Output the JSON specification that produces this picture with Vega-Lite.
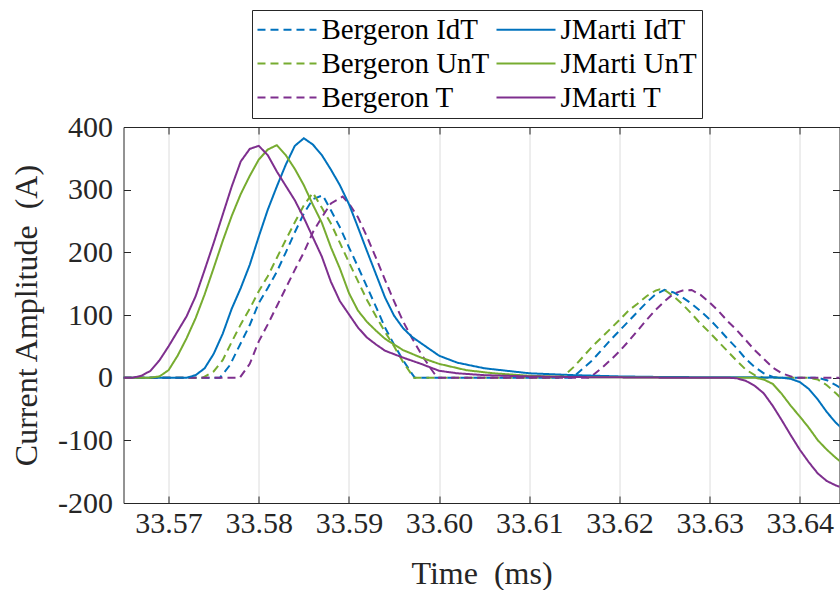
{
"$schema": "https://vega.github.io/schema/vega-lite/v6.json",
"width": 716, "height": 376,
"autosize": {"type": "none"},
"padding": {"left": 123.5, "top": 127, "right": 0.5, "bottom": 87},
"background": "white",
"config": {"view": {"stroke": null}, "font": "Liberation Serif"},
"datasets": {
"curves": [
{"s":"Bergeron IdT","t":33.565,"y":0},{"s":"Bergeron IdT","t":33.5757,"y":0},{"s":"Bergeron IdT","t":33.5768,"y":20},{"s":"Bergeron IdT","t":33.578,"y":55},{"s":"Bergeron IdT","t":33.579,"y":84},{"s":"Bergeron IdT","t":33.58,"y":119},{"s":"Bergeron IdT","t":33.581,"y":143},{"s":"Bergeron IdT","t":33.582,"y":169},{"s":"Bergeron IdT","t":33.583,"y":200},{"s":"Bergeron IdT","t":33.584,"y":232},{"s":"Bergeron IdT","t":33.585,"y":262},{"s":"Bergeron IdT","t":33.586,"y":285},{"s":"Bergeron IdT","t":33.5871,"y":291},{"s":"Bergeron IdT","t":33.588,"y":267},{"s":"Bergeron IdT","t":33.589,"y":240},{"s":"Bergeron IdT","t":33.59,"y":208},{"s":"Bergeron IdT","t":33.591,"y":177},{"s":"Bergeron IdT","t":33.592,"y":145},{"s":"Bergeron IdT","t":33.593,"y":113},{"s":"Bergeron IdT","t":33.594,"y":80},{"s":"Bergeron IdT","t":33.595,"y":53},{"s":"Bergeron IdT","t":33.596,"y":28},{"s":"Bergeron IdT","t":33.597,"y":6},{"s":"Bergeron IdT","t":33.5973,"y":0},{"s":"Bergeron IdT","t":33.6148,"y":0},{"s":"Bergeron IdT","t":33.616,"y":15},{"s":"Bergeron IdT","t":33.617,"y":28},{"s":"Bergeron IdT","t":33.618,"y":44},{"s":"Bergeron IdT","t":33.619,"y":60},{"s":"Bergeron IdT","t":33.62,"y":75},{"s":"Bergeron IdT","t":33.621,"y":90},{"s":"Bergeron IdT","t":33.622,"y":105},{"s":"Bergeron IdT","t":33.623,"y":120},{"s":"Bergeron IdT","t":33.624,"y":133},{"s":"Bergeron IdT","t":33.625,"y":140},{"s":"Bergeron IdT","t":33.626,"y":136},{"s":"Bergeron IdT","t":33.627,"y":128},{"s":"Bergeron IdT","t":33.628,"y":118},{"s":"Bergeron IdT","t":33.629,"y":106},{"s":"Bergeron IdT","t":33.63,"y":93},{"s":"Bergeron IdT","t":33.631,"y":78},{"s":"Bergeron IdT","t":33.632,"y":62},{"s":"Bergeron IdT","t":33.633,"y":47},{"s":"Bergeron IdT","t":33.634,"y":30},{"s":"Bergeron IdT","t":33.635,"y":17},{"s":"Bergeron IdT","t":33.636,"y":7},{"s":"Bergeron IdT","t":33.637,"y":1},{"s":"Bergeron IdT","t":33.6375,"y":0},{"s":"Bergeron IdT","t":33.642,"y":0},{"s":"Bergeron IdT","t":33.643,"y":-4},{"s":"Bergeron IdT","t":33.644,"y":-12},{"s":"Bergeron IdT","t":33.6446,"y":-17},
{"s":"Bergeron UnT","t":33.565,"y":0},{"s":"Bergeron UnT","t":33.5738,"y":0},{"s":"Bergeron UnT","t":33.575,"y":10},{"s":"Bergeron UnT","t":33.576,"y":28},{"s":"Bergeron UnT","t":33.577,"y":57},{"s":"Bergeron UnT","t":33.578,"y":85},{"s":"Bergeron UnT","t":33.579,"y":110},{"s":"Bergeron UnT","t":33.58,"y":138},{"s":"Bergeron UnT","t":33.581,"y":162},{"s":"Bergeron UnT","t":33.582,"y":191},{"s":"Bergeron UnT","t":33.583,"y":220},{"s":"Bergeron UnT","t":33.584,"y":248},{"s":"Bergeron UnT","t":33.585,"y":275},{"s":"Bergeron UnT","t":33.586,"y":295},{"s":"Bergeron UnT","t":33.587,"y":271},{"s":"Bergeron UnT","t":33.588,"y":246},{"s":"Bergeron UnT","t":33.589,"y":215},{"s":"Bergeron UnT","t":33.59,"y":184},{"s":"Bergeron UnT","t":33.591,"y":154},{"s":"Bergeron UnT","t":33.592,"y":124},{"s":"Bergeron UnT","t":33.593,"y":98},{"s":"Bergeron UnT","t":33.594,"y":73},{"s":"Bergeron UnT","t":33.595,"y":50},{"s":"Bergeron UnT","t":33.596,"y":25},{"s":"Bergeron UnT","t":33.597,"y":4},{"s":"Bergeron UnT","t":33.5972,"y":0},{"s":"Bergeron UnT","t":33.613,"y":0},{"s":"Bergeron UnT","t":33.614,"y":5},{"s":"Bergeron UnT","t":33.615,"y":18},{"s":"Bergeron UnT","t":33.616,"y":34},{"s":"Bergeron UnT","t":33.617,"y":50},{"s":"Bergeron UnT","t":33.618,"y":64},{"s":"Bergeron UnT","t":33.619,"y":78},{"s":"Bergeron UnT","t":33.62,"y":92},{"s":"Bergeron UnT","t":33.621,"y":107},{"s":"Bergeron UnT","t":33.622,"y":118},{"s":"Bergeron UnT","t":33.623,"y":130},{"s":"Bergeron UnT","t":33.624,"y":139},{"s":"Bergeron UnT","t":33.6245,"y":141},{"s":"Bergeron UnT","t":33.625,"y":140},{"s":"Bergeron UnT","t":33.626,"y":130},{"s":"Bergeron UnT","t":33.627,"y":117},{"s":"Bergeron UnT","t":33.628,"y":102},{"s":"Bergeron UnT","t":33.629,"y":86},{"s":"Bergeron UnT","t":33.63,"y":72},{"s":"Bergeron UnT","t":33.631,"y":57},{"s":"Bergeron UnT","t":33.632,"y":42},{"s":"Bergeron UnT","t":33.633,"y":27},{"s":"Bergeron UnT","t":33.634,"y":13},{"s":"Bergeron UnT","t":33.635,"y":4},{"s":"Bergeron UnT","t":33.636,"y":0},{"s":"Bergeron UnT","t":33.641,"y":0},{"s":"Bergeron UnT","t":33.642,"y":-3},{"s":"Bergeron UnT","t":33.643,"y":-12},{"s":"Bergeron UnT","t":33.644,"y":-25},{"s":"Bergeron UnT","t":33.6446,"y":-33},
{"s":"Bergeron T","t":33.565,"y":0},{"s":"Bergeron T","t":33.5779,"y":0},{"s":"Bergeron T","t":33.579,"y":22},{"s":"Bergeron T","t":33.58,"y":58},{"s":"Bergeron T","t":33.581,"y":85},{"s":"Bergeron T","t":33.582,"y":114},{"s":"Bergeron T","t":33.583,"y":143},{"s":"Bergeron T","t":33.584,"y":172},{"s":"Bergeron T","t":33.585,"y":200},{"s":"Bergeron T","t":33.586,"y":232},{"s":"Bergeron T","t":33.587,"y":256},{"s":"Bergeron T","t":33.588,"y":278},{"s":"Bergeron T","t":33.5893,"y":289},{"s":"Bergeron T","t":33.59,"y":278},{"s":"Bergeron T","t":33.591,"y":256},{"s":"Bergeron T","t":33.592,"y":225},{"s":"Bergeron T","t":33.593,"y":191},{"s":"Bergeron T","t":33.594,"y":156},{"s":"Bergeron T","t":33.595,"y":122},{"s":"Bergeron T","t":33.596,"y":90},{"s":"Bergeron T","t":33.597,"y":63},{"s":"Bergeron T","t":33.598,"y":38},{"s":"Bergeron T","t":33.599,"y":16},{"s":"Bergeron T","t":33.5998,"y":0},{"s":"Bergeron T","t":33.6167,"y":0},{"s":"Bergeron T","t":33.618,"y":15},{"s":"Bergeron T","t":33.619,"y":28},{"s":"Bergeron T","t":33.62,"y":42},{"s":"Bergeron T","t":33.621,"y":58},{"s":"Bergeron T","t":33.622,"y":75},{"s":"Bergeron T","t":33.623,"y":92},{"s":"Bergeron T","t":33.624,"y":108},{"s":"Bergeron T","t":33.625,"y":122},{"s":"Bergeron T","t":33.626,"y":134},{"s":"Bergeron T","t":33.627,"y":139},{"s":"Bergeron T","t":33.628,"y":140},{"s":"Bergeron T","t":33.629,"y":132},{"s":"Bergeron T","t":33.63,"y":120},{"s":"Bergeron T","t":33.631,"y":106},{"s":"Bergeron T","t":33.632,"y":90},{"s":"Bergeron T","t":33.633,"y":76},{"s":"Bergeron T","t":33.634,"y":60},{"s":"Bergeron T","t":33.635,"y":44},{"s":"Bergeron T","t":33.636,"y":30},{"s":"Bergeron T","t":33.637,"y":16},{"s":"Bergeron T","t":33.638,"y":7},{"s":"Bergeron T","t":33.639,"y":2},{"s":"Bergeron T","t":33.6394,"y":0},{"s":"Bergeron T","t":33.6446,"y":0},
{"s":"JMarti IdT","t":33.565,"y":0},{"s":"JMarti IdT","t":33.572,"y":0},{"s":"JMarti IdT","t":33.573,"y":4},{"s":"JMarti IdT","t":33.574,"y":15},{"s":"JMarti IdT","t":33.575,"y":38},{"s":"JMarti IdT","t":33.576,"y":70},{"s":"JMarti IdT","t":33.577,"y":110},{"s":"JMarti IdT","t":33.578,"y":143},{"s":"JMarti IdT","t":33.579,"y":180},{"s":"JMarti IdT","t":33.58,"y":225},{"s":"JMarti IdT","t":33.581,"y":268},{"s":"JMarti IdT","t":33.582,"y":305},{"s":"JMarti IdT","t":33.583,"y":340},{"s":"JMarti IdT","t":33.584,"y":370},{"s":"JMarti IdT","t":33.585,"y":382},{"s":"JMarti IdT","t":33.586,"y":372},{"s":"JMarti IdT","t":33.587,"y":355},{"s":"JMarti IdT","t":33.588,"y":332},{"s":"JMarti IdT","t":33.589,"y":307},{"s":"JMarti IdT","t":33.59,"y":277},{"s":"JMarti IdT","t":33.591,"y":240},{"s":"JMarti IdT","t":33.592,"y":202},{"s":"JMarti IdT","t":33.593,"y":165},{"s":"JMarti IdT","t":33.594,"y":128},{"s":"JMarti IdT","t":33.595,"y":99},{"s":"JMarti IdT","t":33.596,"y":79},{"s":"JMarti IdT","t":33.597,"y":65},{"s":"JMarti IdT","t":33.598,"y":55},{"s":"JMarti IdT","t":33.599,"y":45},{"s":"JMarti IdT","t":33.6,"y":35},{"s":"JMarti IdT","t":33.602,"y":24},{"s":"JMarti IdT","t":33.605,"y":15},{"s":"JMarti IdT","t":33.61,"y":7},{"s":"JMarti IdT","t":33.615,"y":4},{"s":"JMarti IdT","t":33.62,"y":2},{"s":"JMarti IdT","t":33.625,"y":1},{"s":"JMarti IdT","t":33.635,"y":0.5},{"s":"JMarti IdT","t":33.638,"y":0},{"s":"JMarti IdT","t":33.639,"y":-2},{"s":"JMarti IdT","t":33.64,"y":-7},{"s":"JMarti IdT","t":33.641,"y":-18},{"s":"JMarti IdT","t":33.642,"y":-35},{"s":"JMarti IdT","t":33.643,"y":-55},{"s":"JMarti IdT","t":33.644,"y":-72},{"s":"JMarti IdT","t":33.6446,"y":-80},
{"s":"JMarti UnT","t":33.565,"y":0},{"s":"JMarti UnT","t":33.568,"y":0},{"s":"JMarti UnT","t":33.569,"y":2},{"s":"JMarti UnT","t":33.57,"y":12},{"s":"JMarti UnT","t":33.571,"y":35},{"s":"JMarti UnT","t":33.572,"y":63},{"s":"JMarti UnT","t":33.573,"y":95},{"s":"JMarti UnT","t":33.574,"y":133},{"s":"JMarti UnT","t":33.575,"y":175},{"s":"JMarti UnT","t":33.576,"y":218},{"s":"JMarti UnT","t":33.577,"y":258},{"s":"JMarti UnT","t":33.578,"y":293},{"s":"JMarti UnT","t":33.579,"y":322},{"s":"JMarti UnT","t":33.58,"y":348},{"s":"JMarti UnT","t":33.581,"y":364},{"s":"JMarti UnT","t":33.582,"y":371},{"s":"JMarti UnT","t":33.583,"y":355},{"s":"JMarti UnT","t":33.584,"y":333},{"s":"JMarti UnT","t":33.585,"y":307},{"s":"JMarti UnT","t":33.586,"y":276},{"s":"JMarti UnT","t":33.587,"y":247},{"s":"JMarti UnT","t":33.588,"y":208},{"s":"JMarti UnT","t":33.589,"y":174},{"s":"JMarti UnT","t":33.59,"y":135},{"s":"JMarti UnT","t":33.591,"y":107},{"s":"JMarti UnT","t":33.592,"y":89},{"s":"JMarti UnT","t":33.593,"y":75},{"s":"JMarti UnT","t":33.594,"y":62},{"s":"JMarti UnT","t":33.596,"y":44},{"s":"JMarti UnT","t":33.598,"y":32},{"s":"JMarti UnT","t":33.6,"y":22},{"s":"JMarti UnT","t":33.603,"y":12},{"s":"JMarti UnT","t":33.606,"y":7},{"s":"JMarti UnT","t":33.61,"y":3},{"s":"JMarti UnT","t":33.615,"y":1},{"s":"JMarti UnT","t":33.62,"y":0.5},{"s":"JMarti UnT","t":33.625,"y":0},{"s":"JMarti UnT","t":33.635,"y":0},{"s":"JMarti UnT","t":33.636,"y":-3},{"s":"JMarti UnT","t":33.637,"y":-10},{"s":"JMarti UnT","t":33.638,"y":-26},{"s":"JMarti UnT","t":33.639,"y":-45},{"s":"JMarti UnT","t":33.64,"y":-62},{"s":"JMarti UnT","t":33.641,"y":-80},{"s":"JMarti UnT","t":33.642,"y":-100},{"s":"JMarti UnT","t":33.643,"y":-115},{"s":"JMarti UnT","t":33.644,"y":-128},{"s":"JMarti UnT","t":33.6446,"y":-135},
{"s":"JMarti T","t":33.565,"y":0},{"s":"JMarti T","t":33.566,"y":0},{"s":"JMarti T","t":33.567,"y":3},{"s":"JMarti T","t":33.568,"y":11},{"s":"JMarti T","t":33.569,"y":28},{"s":"JMarti T","t":33.57,"y":50},{"s":"JMarti T","t":33.571,"y":74},{"s":"JMarti T","t":33.572,"y":98},{"s":"JMarti T","t":33.573,"y":130},{"s":"JMarti T","t":33.574,"y":172},{"s":"JMarti T","t":33.575,"y":215},{"s":"JMarti T","t":33.576,"y":260},{"s":"JMarti T","t":33.577,"y":305},{"s":"JMarti T","t":33.578,"y":345},{"s":"JMarti T","t":33.579,"y":365},{"s":"JMarti T","t":33.58,"y":370},{"s":"JMarti T","t":33.581,"y":355},{"s":"JMarti T","t":33.582,"y":329},{"s":"JMarti T","t":33.583,"y":306},{"s":"JMarti T","t":33.584,"y":283},{"s":"JMarti T","t":33.585,"y":255},{"s":"JMarti T","t":33.586,"y":224},{"s":"JMarti T","t":33.587,"y":193},{"s":"JMarti T","t":33.588,"y":153},{"s":"JMarti T","t":33.589,"y":122},{"s":"JMarti T","t":33.59,"y":101},{"s":"JMarti T","t":33.591,"y":80},{"s":"JMarti T","t":33.592,"y":64},{"s":"JMarti T","t":33.593,"y":53},{"s":"JMarti T","t":33.594,"y":43},{"s":"JMarti T","t":33.596,"y":32},{"s":"JMarti T","t":33.598,"y":22},{"s":"JMarti T","t":33.6,"y":11},{"s":"JMarti T","t":33.602,"y":7},{"s":"JMarti T","t":33.605,"y":4},{"s":"JMarti T","t":33.61,"y":2},{"s":"JMarti T","t":33.615,"y":1},{"s":"JMarti T","t":33.62,"y":0.5},{"s":"JMarti T","t":33.625,"y":0},{"s":"JMarti T","t":33.632,"y":0},{"s":"JMarti T","t":33.633,"y":-1},{"s":"JMarti T","t":33.634,"y":-5},{"s":"JMarti T","t":33.635,"y":-13},{"s":"JMarti T","t":33.636,"y":-25},{"s":"JMarti T","t":33.637,"y":-45},{"s":"JMarti T","t":33.638,"y":-68},{"s":"JMarti T","t":33.639,"y":-92},{"s":"JMarti T","t":33.64,"y":-115},{"s":"JMarti T","t":33.641,"y":-135},{"s":"JMarti T","t":33.642,"y":-153},{"s":"JMarti T","t":33.643,"y":-165},{"s":"JMarti T","t":33.644,"y":-172},{"s":"JMarti T","t":33.6446,"y":-175}
]},
"data": {"name": "curves"},
"layer": [
{
"mark": {"type": "line", "strokeWidth": 2, "clip": true},
"encoding": {
"x": {"field": "t", "type": "quantitative",
 "scale": {"domain": [33.565, 33.6444], "nice": false, "zero": false},
 "axis": {"orient": "bottom", "values": [33.57,33.58,33.59,33.6,33.61,33.62,33.63,33.64], "format": ".2f",
  "title": "Time\u00a0\u00a0(ms)", "grid": true, "gridColor": "#dcdcdc", "gridWidth": 1,
  "domainColor": "#262626", "domainWidth": 1, "tickColor": "#262626", "tickSize": -7, "tickWidth": 1,
  "labelFont": "Liberation Serif", "labelFontSize": 30, "labelColor": "#262626", "labelPadding": 12,
  "labelFlush": false, "labelOverlap": false,
  "titleFont": "Liberation Serif", "titleFontSize": 32, "titleFontWeight": "normal", "titleColor": "#262626", "titlePadding": 20}},
"y": {"field": "y", "type": "quantitative",
 "scale": {"domain": [-200, 400], "nice": false, "zero": false},
 "axis": {"orient": "left", "values": [-200,-100,0,100,200,300,400], "grid": false,
  "labelExpr": "datum.value < 0 ? '-' + abs(datum.value) : '' + datum.value",
  "title": "Current Amplitude\u00a0\u00a0(A)",
  "domainColor": "#262626", "domainWidth": 1, "tickColor": "#262626", "tickSize": -7, "tickWidth": 1,
  "labelFont": "Liberation Serif", "labelFontSize": 30, "labelColor": "#262626", "labelPadding": 18,
  "labelFlush": false, "labelOverlap": false,
  "titleFont": "Liberation Serif", "titleFontSize": 32, "titleFontWeight": "normal", "titleColor": "#262626", "titlePadding": 14}},
"color": {"field": "s", "type": "nominal",
 "scale": {"domain": ["Bergeron IdT","JMarti IdT","Bergeron UnT","JMarti UnT","Bergeron T","JMarti T"],
  "range": ["#0072BD","#0072BD","#77AC30","#77AC30","#7E2F8E","#7E2F8E"]},
 "legend": {"title": null, "orient": "none", "legendX": 128.5, "legendY": -117, "columns": 2, "direction": "horizontal",
  "symbolType": "M-2.27,0H2.27", "symbolSize": 676, "symbolStrokeWidth": 2, "symbolOffset": 15.5,
  "labelFont": "Liberation Serif", "labelFontSize": 29, "labelColor": "#000000", "labelOffset": 20, "labelLimit": 400,
  "rowPadding": 4, "columnPadding": 2, "padding": 5,
  "strokeColor": "#262626", "fillColor": "white"}},
"strokeDash": {"field": "s", "type": "nominal",
 "scale": {"domain": ["Bergeron IdT","JMarti IdT","Bergeron UnT","JMarti UnT","Bergeron T","JMarti T"],
  "range": [[8,5],[1,0],[8,5],[1,0],[8,5],[1,0]]},
 "legend": {"title": null, "orient": "none", "legendX": 128.5, "legendY": -117, "columns": 2, "direction": "horizontal",
  "symbolType": "M-2.27,0H2.27", "symbolSize": 676, "symbolStrokeWidth": 2, "symbolOffset": 15.5,
  "labelFont": "Liberation Serif", "labelFontSize": 29, "labelColor": "#000000", "labelOffset": 20, "labelLimit": 400,
  "rowPadding": 4, "columnPadding": 2, "padding": 5,
  "strokeColor": "#262626", "fillColor": "white"}}
}
},
{
"mark": {"type": "point", "opacity": 0},
"encoding": {
"x": {"field": "t", "type": "quantitative",
 "scale": {"domain": [33.565, 33.6444], "nice": false, "zero": false},
 "axis": {"orient": "top", "values": [33.57,33.58,33.59,33.6,33.61,33.62,33.63,33.64], "labels": false, "title": null, "grid": false,
  "domainColor": "#262626", "domainWidth": 1, "tickColor": "#262626", "tickSize": -7, "tickWidth": 1}},
"y": {"field": "y", "type": "quantitative",
 "scale": {"domain": [-200, 400], "nice": false, "zero": false},
 "axis": {"orient": "right", "values": [-200,-100,0,100,200,300,400], "labels": false, "title": null, "grid": false,
  "domainColor": "#262626", "domainWidth": 1, "tickColor": "#262626", "tickSize": -7, "tickWidth": 1}}
}
}
],
"resolve": {"axis": {"x": "independent", "y": "independent"}}
}
